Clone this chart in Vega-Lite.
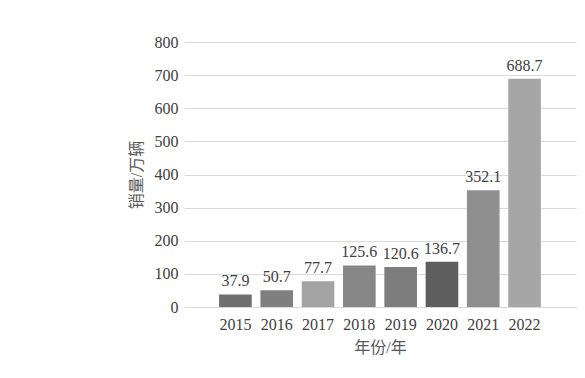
{
  "$schema": "https://vega.github.io/schema/vega-lite/v6.json",
  "autosize": {"type": "none"},
  "padding": {"left": 184, "top": 42, "right": 9, "bottom": 71},
  "width": 392,
  "height": 265,
  "background": "white",
  "config": {
    "view": {"stroke": null},
    "font": "Times New Roman",
    "axis": {
      "labelFont": "Times New Roman",
      "labelFontSize": 16,
      "labelColor": "#404040",
      "titleFont": "Times New Roman, Noto Sans CJK SC",
      "titleFontSize": 16,
      "titleFontWeight": "normal",
      "titleColor": "#595959",
      "gridColor": "#d9d9d9",
      "gridWidth": 1,
      "ticks": false,
      "domain": false
    }
  },
  "data": {
    "values": [
      {"year": "2015", "sales": 37.9},
      {"year": "2016", "sales": 50.7},
      {"year": "2017", "sales": 77.7},
      {"year": "2018", "sales": 125.6},
      {"year": "2019", "sales": 120.6},
      {"year": "2020", "sales": 136.7},
      {"year": "2021", "sales": 352.1},
      {"year": "2022", "sales": 688.7}
    ]
  },
  "encoding": {
    "x": {
      "field": "year",
      "type": "nominal",
      "sort": null,
      "scale": {"paddingInner": 0.21, "paddingOuter": 0.85},
      "axis": {"title": "年份/年", "labelAngle": 0, "labelPadding": 9, "titlePadding": 7, "grid": false, "domain": true, "domainColor": "#d9d9d9"}
    },
    "y": {
      "field": "sales",
      "type": "quantitative",
      "scale": {"domain": [0, 800], "nice": false},
      "axis": {"title": "销量/万辆", "values": [0, 100, 200, 300, 400, 500, 600, 700, 800], "labelPadding": 6, "titlePadding": 10, "grid": true}
    }
  },
  "layer": [
    {
      "mark": {"type": "bar"},
      "encoding": {
        "color": {
          "field": "year",
          "type": "nominal",
          "sort": null,
          "legend": null,
          "scale": {"range": ["#6e6e6e", "#7f7f7f", "#a3a3a3", "#878787", "#7d7d7d", "#5e5e5e", "#8f8f8f", "#a6a6a6"]}
        }
      }
    },
    {
      "mark": {"type": "text", "baseline": "bottom", "dy": -5, "fontSize": 16, "font": "Times New Roman", "color": "#404040"},
      "encoding": {"text": {"field": "sales", "type": "quantitative", "format": ".1f"}}
    }
  ]
}
